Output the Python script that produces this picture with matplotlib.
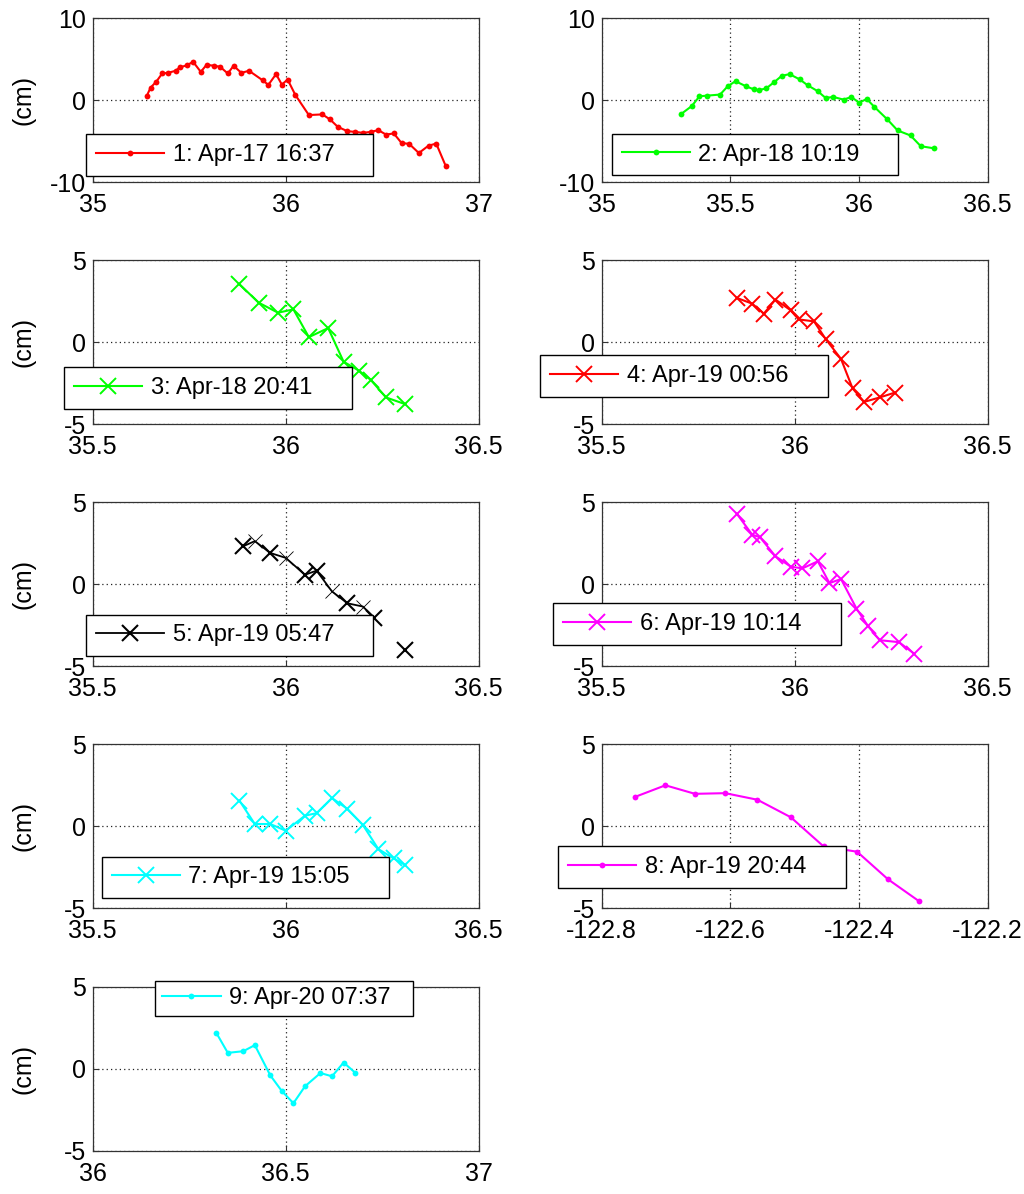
import numpy as np
import matplotlib
matplotlib.use("Agg")
import matplotlib.pyplot as plt

plt.rcParams['font.family'] = ['Liberation Sans', 'DejaVu Sans']
plt.rcParams['axes.unicode_minus'] = False

# ---------------- data ----------------
p1_x = [35.28, 35.30, 35.33, 35.36, 35.39, 35.43, 35.45, 35.49, 35.52, 35.56,
        35.59, 35.63, 35.66, 35.70, 35.73, 35.77, 35.81, 35.88, 35.91, 35.95,
        35.98, 36.01, 36.05, 36.12, 36.19, 36.23, 36.27, 36.32, 36.36, 36.40,
        36.44, 36.48, 36.52, 36.56, 36.60, 36.64, 36.69, 36.74, 36.78, 36.83]
p1_y = [0.53, 1.55, 2.29, 3.27, 3.35, 3.60, 4.00, 4.29, 4.70, 3.47,
        4.33, 4.21, 4.09, 3.27, 4.21, 3.35, 3.60, 2.45, 1.88, 3.19,
        1.92, 2.53, 0.65, -1.80, -1.72, -2.34, -3.24, -3.77, -3.85, -3.97,
        -3.85, -3.64, -4.18, -4.04, -5.20, -5.32, -6.43, -5.53, -5.28, -8.06]

p2_x = [35.31, 35.35, 35.38, 35.41, 35.46, 35.49, 35.52, 35.56, 35.59, 35.61,
        35.64, 35.67, 35.70, 35.73, 35.77, 35.80, 35.84, 35.87, 35.90, 35.94,
        35.97, 36.00, 36.03, 36.06, 36.11, 36.15, 36.20, 36.24, 36.29]
p2_y = [-1.64, -0.70, 0.49, 0.57, 0.70, 1.72, 2.33, 1.72, 1.35, 1.23,
        1.47, 2.21, 2.99, 3.19, 2.54, 1.84, 1.10, 0.29, 0.41, 0.08,
        0.41, -0.29, 0.16, -0.82, -2.33, -3.68, -4.29, -5.60, -5.85]

p3_x = [35.88, 35.93, 35.98, 36.02, 36.06, 36.11, 36.15, 36.19, 36.22, 36.26, 36.31]
p3_y = [3.54, 2.41, 1.80, 2.00, 0.31, 0.86, -1.19, -1.74, -2.29, -3.37, -3.78]

p4_x = [35.85, 35.89, 35.92, 35.95, 35.99, 36.01, 36.05, 36.08, 36.12, 36.15,
        36.18, 36.22, 36.26]
p4_y = [2.70, 2.35, 1.74, 2.60, 1.94, 1.39, 1.27, 0.20, -1.02, -2.82,
        -3.64, -3.37, -3.07]

p5_x = [35.89, 35.92, 35.96, 36.00, 36.05, 36.08, 36.12, 36.16, 36.20, 36.23, np.nan, 36.31]
p5_y = [2.31, 2.62, 1.90, 1.60, 0.57, 0.82, -0.45, -1.17, -1.37, -2.05, np.nan, -4.03]
p5_thin = [1, 3, 6, 8]

p6_x = [35.85, 35.89, 35.91, 35.95, 35.99, 36.02, 36.06, 36.09, 36.12, 36.16,
        36.19, 36.22, 36.27, 36.31]
p6_y = [4.29, 3.01, 2.86, 1.70, 1.06, 0.96, 1.39, 0.06, 0.31, -1.49,
        -2.56, -3.42, -3.54, -4.25]

p7_x = [35.88, 35.92, 35.96, 36.00, 36.05, 36.08, 36.12, 36.16, 36.20, 36.24, 36.28, 36.31]
p7_y = [1.57, 0.14, 0.14, -0.27, 0.65, 0.80, 1.72, 1.06, 0.08, -1.39, -1.96, -2.37]

p8_x = [-122.749, -122.701, -122.655, -122.608, -122.558, -122.506, -122.455,
        -122.403, -122.355, -122.307]
p8_y = [1.78, 2.50, 1.98, 2.02, 1.62, 0.55, -1.23, -1.55, -3.23, -4.56]

p9_x = [36.32, 36.35, 36.39, 36.42, 36.46, 36.49, 36.52, 36.55, 36.59, 36.62, 36.65, 36.68]
p9_y = [2.19, 0.96, 1.06, 1.43, -0.41, -1.37, -2.11, -1.08, -0.27, -0.47, 0.37, -0.25]

labels = ["1: Apr-17 16:37", "2: Apr-18 10:19", "3: Apr-18 20:41",
          "4: Apr-19 00:56", "5: Apr-19 05:47", "6: Apr-19 10:14",
          "7: Apr-19 15:05", "8: Apr-19 20:44", "9: Apr-20 07:37"]

xticks = [[35, 36, 37], [35, 35.5, 36, 36.5], [35.5, 36, 36.5], [35.5, 36, 36.5],
          [35.5, 36, 36.5], [35.5, 36, 36.5], [35.5, 36, 36.5],
          [-122.8, -122.6, -122.4, -122.2], [36, 36.5, 37]]
xticklabels = [["35", "36", "37"], ["35", "35.5", "36", "36.5"],
               ["35.5", "36", "36.5"], ["35.5", "36", "36.5"],
               ["35.5", "36", "36.5"], ["35.5", "36", "36.5"],
               ["35.5", "36", "36.5"],
               ["-122.8", "-122.6", "-122.4", "-122.2"], ["36", "36.5", "37"]]
yticks = [[-10, 0, 10], [-10, 0, 10]] + [[-5, 0, 5]] * 7

# ---------------- layout ----------------
W, H = 1024, 1194
fig = plt.figure(figsize=(W / 100, H / 100), dpi=100)

col_left = [92.7, 601.7]
ax_w = 386.0
ax_h = 164.0
row_top = [18.3, 260.2, 502.1, 744.3, 986.6]

# legend boxes in pixels (x0, y0, x1, y1)
leg_boxes = [(86, 130.7, 372.7, 179), (611.7, 130.7, 898, 178.3),
             (64, 363.3, 351.7, 413.3), (540, 351.7, 828.3, 400),
             (86, 611.7, 372.7, 659.3), (553, 600, 840.7, 648.3),
             (101.7, 853.3, 389, 901.7), (558, 843.3, 846, 891),
             (155, 977.7, 413.3, 1019)]

axes = []
for i in range(9):
    r, c = divmod(i, 2)
    x0 = col_left[c]
    y0 = row_top[r]
    ax = fig.add_axes([x0 / W, 1 - (y0 + ax_h) / H, ax_w / W, ax_h / H])
    axes.append(ax)

FS_TICK = 18
FS_LEG = 17
red, green, black, mag, cyan = '#ff0000', '#00ff00', '#000000', '#ff00ff', '#00ffff'

dot = dict(marker='o', markersize=4.2, markeredgewidth=0, linewidth=1.5)
cross = dict(marker='x', markersize=11, markeredgewidth=1.4, linewidth=1.5)

axes[0].plot(p1_x, p1_y, color=red, label=labels[0], **dot)
axes[1].plot(p2_x, p2_y, color=green, label=labels[1], **dot)
axes[2].plot(p3_x, p3_y, color=green, label=labels[2], **cross)
axes[3].plot(p4_x, p4_y, color=red, label=labels[3], **cross)
thick_idx = [k for k in range(len(p5_x)) if k not in p5_thin and not np.isnan(p5_x[k])]
axes[4].plot(p5_x, p5_y, color=black, linewidth=1.3, marker='x', markersize=11,
             markeredgewidth=1.5, markevery=thick_idx, label=labels[4])
axes[4].plot([p5_x[k] for k in p5_thin], [p5_y[k] for k in p5_thin], linestyle='none',
             marker='x', markersize=10, markeredgewidth=0.6, color=black)
axes[5].plot(p6_x, p6_y, color=mag, label=labels[5], **cross)
axes[6].plot(p7_x, p7_y, color=cyan, label=labels[6], **cross)
axes[7].plot(p8_x, p8_y, color=mag, label=labels[7], **dot)
axes[8].plot(p9_x, p9_y, color=cyan, label=labels[8], **dot)

for i, ax in enumerate(axes):
    ax.set_xlim(xticks[i][0], xticks[i][-1])
    ax.set_ylim(yticks[i][0], yticks[i][-1])
    ax.set_xticks(xticks[i])
    ax.set_xticklabels(xticklabels[i])
    ax.set_yticks(yticks[i])
    ax.set_yticklabels([str(v) for v in yticks[i]])
    ax.tick_params(direction='in', length=4, width=0.8, labelsize=FS_TICK, colors='#333333',
                   labelcolor='black')
    ax.tick_params(axis='x', pad=8.0)
    ax.tick_params(axis='y', pad=5.0)
    ax.grid(True, linestyle=(0, (1, 2.5)), color='#222222', linewidth=0.9)
    for s in ax.spines.values():
        s.set_color('#333333')
        s.set_linewidth(0.9)
    if i % 2 == 0:
        ax.set_ylabel("(cm)", fontsize=FS_TICK)
        ax.yaxis.set_label_coords(-0.149, 0.5)
    x0, y0, x1, y1 = leg_boxes[i]
    bp = 0.42 if i != 8 else 0.28
    leg = ax.legend(loc='center', mode='expand',
                    bbox_to_anchor=(x0 / W, 1 - y1 / H, (x1 - x0) / W, (y1 - y0) / H),
                    bbox_transform=fig.transFigure, borderaxespad=0,
                    fontsize=FS_LEG, fancybox=False, framealpha=1, edgecolor='black',
                    borderpad=bp, handlelength=2.9 if i != 8 else 2.5,
                    handletextpad=0.35, numpoints=1)
    leg.get_frame().set_linewidth(1.0)

fig.savefig("out.png", dpi=100)
